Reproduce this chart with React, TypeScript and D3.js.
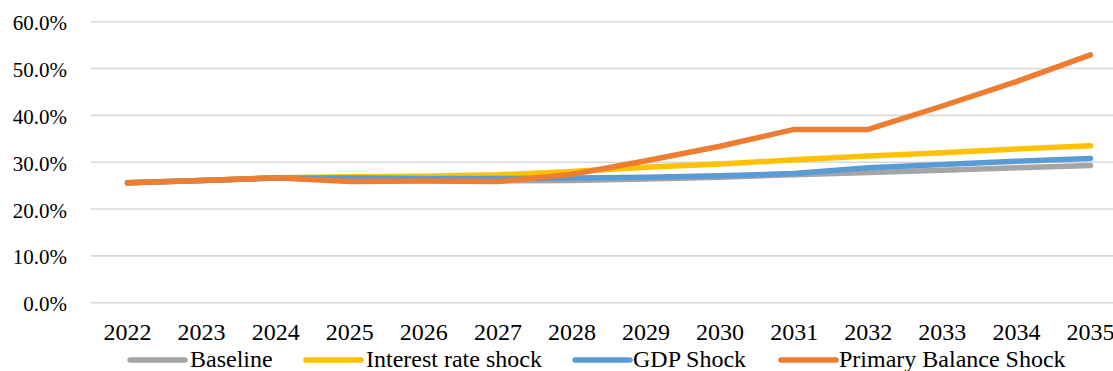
import React from "react";
import * as d3 from "d3";

const years = ["2022", "2023", "2024", "2025", "2026", "2027", "2028", "2029", "2030", "2031", "2032", "2033", "2034", "2035"];
const baseline = [25.6, 26.1, 26.6, 26.3, 26.1, 26.0, 26.1, 26.4, 26.8, 27.3, 27.8, 28.3, 28.8, 29.3];
const interestRateShock = [25.6, 26.1, 26.7, 26.9, 27.0, 27.3, 28.0, 28.9, 29.6, 30.5, 31.3, 32.0, 32.8, 33.5];
const gdpShock = [25.6, 26.1, 26.6, 26.6, 26.5, 26.5, 26.6, 26.8, 27.1, 27.6, 28.8, 29.5, 30.2, 30.8];
const primaryBalanceShock = [25.6, 26.1, 26.7, 25.9, 26.0, 25.9, 27.4, 30.3, 33.4, 37.0, 37.0, 42.0, 47.2, 52.9];
const yTicks = [0, 10, 20, 30, 40, 50, 60];

const seriesNames = ["Baseline", "Interest rate shock", "GDP Shock", "Primary Balance Shock"];
const seriesValues = [baseline, interestRateShock, gdpShock, primaryBalanceShock];
const seriesColors = ["#A5A5A5", "#FFC000", "#5B9BD5", "#ED7D31"];

const W = 1113;
const H = 371;
const FONT = "Liberation Serif";

export default function App() {
  const x = d3.scaleBand<string>().domain(years).range([90.5, 1127.5]);
  const y = d3.scaleLinear().domain([0, 60]).range([302.7, 21.7]);
  const line = d3
    .line<number>()
    .x((_, i) => (x(years[i]) as number) + x.bandwidth() / 2)
    .y((d) => y(d));

  const legendItems = [
    { lx: 130, tx: 190 },
    { lx: 306, tx: 366 },
    { lx: 575, tx: 633 },
    { lx: 781, tx: 839 },
  ];

  return (
    <svg width={W} height={H} style={{ position: "absolute", left: 0, top: 0, background: "#fff" }}>
      {yTicks.map((t) => (
        <g key={t}>
          <line x1={90.5} x2={W} y1={y(t)} y2={y(t)} stroke="#D9D9D9" strokeWidth={1.6} />
          <text x={67} y={y(t) + 8.5} textAnchor="end" fontSize={21} fill="#000" fontFamily={FONT}>
            {t.toFixed(1)}%
          </text>
        </g>
      ))}
      {years.map((yr) => (
        <text
          key={yr}
          x={(x(yr) as number) + x.bandwidth() / 2}
          y={340}
          textAnchor="middle"
          fontSize={24}
          fill="#000"
          fontFamily={FONT}
        >
          {yr}
        </text>
      ))}
      {seriesValues.map((vals, i) => (
        <path
          key={seriesNames[i]}
          d={line(vals) || ""}
          fill="none"
          stroke={seriesColors[i]}
          strokeWidth={5.5}
          strokeLinejoin="round"
          strokeLinecap="round"
        />
      ))}
      {seriesNames.map((name, i) => (
        <g key={name}>
          <line
            x1={legendItems[i].lx}
            x2={legendItems[i].lx + 55}
            y1={360}
            y2={360}
            stroke={seriesColors[i]}
            strokeWidth={5.5}
            strokeLinecap="round"
          />
          <text x={legendItems[i].tx} y={367} fontSize={24} fill="#000" fontFamily={FONT}>
            {name}
          </text>
        </g>
      ))}
    </svg>
  );
}
